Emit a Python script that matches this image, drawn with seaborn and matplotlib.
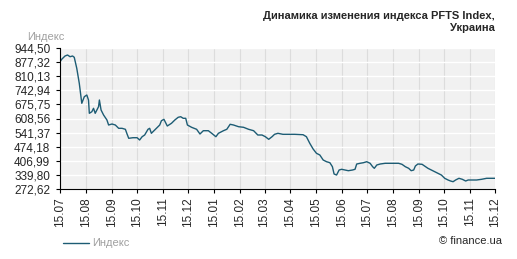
import pandas as pd
import matplotlib
matplotlib.use("Agg")
import matplotlib.pyplot as plt
import seaborn as sns

# PFTS index, 15.07.2011 - 15.12.2012 (days counted from the start date)
start_date = "2011-07-15"
day_offsets = [
    0, 2, 6, 9, 12, 15, 17, 20, 23, 26, 29, 32, 34, 35, 38, 40, 42, 44, 46, 47,
    49, 52, 56, 58, 62, 66, 70, 74, 78, 80, 82, 87, 92, 95, 98, 101, 105, 107, 109, 113,
    115, 119, 121, 124, 128, 133, 137, 141, 144, 147, 150, 152, 157, 163, 167, 171, 177, 181, 186, 189,
    195, 199, 203, 207, 213, 219, 225, 231, 236, 241, 245, 249, 253, 256, 260, 266, 272, 280, 290, 294,
    298, 302, 306, 310, 314, 318, 322, 325, 327, 330, 333, 336, 340, 344, 349, 352, 354, 358, 362, 366,
    370, 373, 375, 378, 382, 388, 394, 404, 408, 412, 416, 419, 422, 424, 427, 432, 435, 439, 443, 447,
    451, 455, 459, 463, 466, 469, 472, 476, 480, 484, 487, 492, 497, 503, 509, 515, 519,
]
index_values = [
    879.2, 890.6, 906.4, 911.1, 903.0, 906.4, 900.2, 847.7, 776.3, 681.0, 712.4, 720.5, 696.7, 633.3, 640.9, 657.1, 633.3, 649.0, 664.8, 696.7,
    649.0, 625.2, 601.4, 577.6, 582.3, 577.6, 561.8, 561.8, 557.1, 534.7, 514.2, 517.0, 517.0, 506.1, 521.8, 529.9, 557.1, 561.8, 538.0, 553.7,
    561.8, 577.6, 598.0, 604.7, 572.8, 585.7, 601.4, 614.3, 617.1, 609.5, 609.5, 577.6, 566.6, 557.1, 534.7, 550.4, 550.4, 538.0, 521.8, 538.0,
    550.4, 557.1, 580.9, 577.6, 569.5, 566.6, 557.1, 550.4, 529.9, 529.9, 521.8, 509.4, 521.8, 533.2, 538.0, 533.2, 533.2, 533.2, 531.3, 521.8,
    490.4, 463.2, 442.7, 434.6, 410.8, 402.7, 397.9, 378.9, 344.1, 339.3, 363.1, 366.5, 363.1, 359.8, 363.1, 366.5, 391.7, 395.1, 397.9, 402.7,
    395.1, 378.9, 371.2, 387.0, 391.7, 395.1, 395.1, 395.1, 390.3, 378.9, 371.2, 359.8, 363.1, 382.2, 391.7, 390.3, 382.2, 371.2, 363.1, 355.0,
    347.4, 339.3, 323.6, 315.5, 310.7, 307.4, 315.5, 323.6, 318.8, 310.7, 315.5, 315.5, 315.5, 318.8, 323.6, 323.6, 323.6,
]
y_ticks = [272.62, 339.80, 406.99, 474.18, 541.37, 608.56, 675.75, 742.94, 810.13, 877.32, 944.50]
x_tick_dates = pd.date_range("2011-07-01", "2012-12-01", freq="MS") + pd.Timedelta(days=14)

df = pd.DataFrame({
    "date": pd.Timestamp(start_date) + pd.to_timedelta(day_offsets, unit="D"),
    "value": index_values,
})

sns.set_style("ticks")
plt.rcParams["font.family"] = ["Liberation Sans", "DejaVu Sans"]

fig = plt.figure(figsize=(5.17, 2.59), dpi=100)
ax = fig.add_axes([60 / 517, 1 - 189 / 259, 435 / 517, 141 / 259])
ax.set_facecolor("#f1f1f1")

line_color = "#1d5c74"
sns.lineplot(data=df, x="date", y="value", ax=ax, color=line_color, linewidth=1.0)

ax.set_xlim(x_tick_dates[0], x_tick_dates[-1])
ax.set_ylim(y_ticks[0], y_ticks[-1])
ax.set_yticks(y_ticks)
ax.set_yticklabels([f"{v:.2f}".replace(".", ",") for v in y_ticks], fontsize=8.5)
ax.set_xticks(x_tick_dates)
ax.set_xticklabels([d.strftime("%d.%m") for d in x_tick_dates], rotation=90, fontsize=8.5)
ax.set_xlabel("")
ax.set_ylabel("")

ax.grid(axis="y", color="white", linewidth=1.0)
ax.grid(axis="x", color="#dcdcdc", linewidth=0.8)
ax.set_axisbelow(True)
for side in ["top", "right"]:
    ax.spines[side].set_visible(False)
for side in ["left", "bottom"]:
    ax.spines[side].set_color("black")
    ax.spines[side].set_linewidth(0.8)
ax.tick_params(axis="y", length=3, width=0.8, color="black", pad=4)
ax.tick_params(axis="x", length=3, width=0.8, color="black", pad=3)

fig.text(27 / 517, 1 - 37 / 259, "Индекс", color="#a0a0a0", fontsize=8, va="center")
fig.text(495 / 517, 1 - 22 / 259, "Динамика изменения индекса PFTS Index,\nУкраина",
         ha="right", va="center", fontsize=8, fontweight="bold", linespacing=1.25)

fig.lines.append(plt.Line2D([63 / 517, 89 / 517], [1 - 243 / 259] * 2,
                            transform=fig.transFigure, color=line_color, linewidth=1.0))
fig.text(92 / 517, 1 - 243 / 259, "Индекс", color="#a0a0a0", fontsize=8, va="center")
fig.text(502 / 517, 1 - 241 / 259, "© finance.ua", ha="right", va="center", fontsize=8)

fig.savefig("out.png", dpi=100)
